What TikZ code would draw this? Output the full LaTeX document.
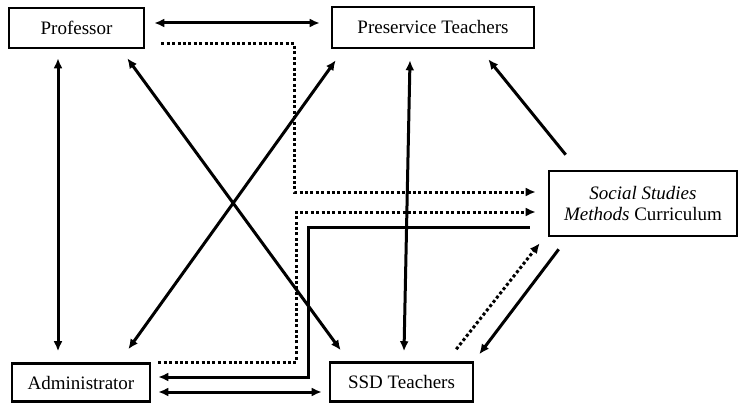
\documentclass[tikz,border=0pt]{standalone}
\usepackage{fontspec}
\setmainfont{Liberation Serif}
\usetikzlibrary{arrows.meta}
\begin{document}
\begin{tikzpicture}[x=1pt,y=-1pt,
  box/.style={draw,line width=2.6pt,inner sep=0pt,align=center,
    font=\fontsize{19}{21}\selectfont},
  tip/.tip={Latex[length=10pt,width=9pt]},
  link/.style={line width=3pt,-tip},
  dbl/.style={line width=3pt,tip-tip},
  dots/.style={link,dash pattern=on 3pt off 2.4pt}]
\useasboundingbox (0,0) rectangle (739,404);

% boxes
\node[box,minimum width=135pt,minimum height=40pt] (prof) at (76.5,28) {Professor};
\node[box,minimum width=202pt,minimum height=41pt] (pres) at (433,27.5) {Preservice Teachers};
\node[box,minimum width=188pt,minimum height=65pt] (curr) at (643,203.5)
  {\textit{Social Studies}\\\textit{Methods} Curriculum};
\node[box,minimum width=138pt,minimum height=38pt] (admin) at (81,382.5) {Administrator};
\node[box,minimum width=143pt,minimum height=39pt] (ssd) at (401.5,382) {SSD Teachers};

% two-way links
\draw[dbl] ([xshift=9pt,yshift=5pt]prof.east) -- ([xshift=-11pt,yshift=4.5pt]pres.west);
\draw[dbl] ([xshift=-18.5pt,yshift=-9pt]prof.south) -- ([xshift=-23pt,yshift=11pt]admin.north);
\draw[dbl] ([xshift=-18pt,yshift=-9pt]prof.south east) -- ([xshift=12pt,yshift=11pt]ssd.north west);
\draw[dbl] ([xshift=-23pt,yshift=13pt]admin.north east) -- ([xshift=5pt,yshift=-11pt]pres.south west);
\draw[dbl] ([xshift=-23pt,yshift=-11pt]pres.south) -- ([xshift=2.5pt,yshift=10pt]ssd.north);
\draw[dbl] ([xshift=7pt,yshift=-9.5pt]admin.east) -- ([xshift=-7pt,yshift=-10pt]ssd.west);

% one-way links from the curriculum
\draw[link] ([xshift=18pt,yshift=15pt]curr.north west) -- ([xshift=-47pt,yshift=-10pt]pres.south east);
\draw[link] ([xshift=11pt,yshift=-12pt]curr.south west) -- ([xshift=5pt,yshift=7pt]ssd.north east);
\draw[link] ([xshift=-18pt,yshift=-23.5pt]curr.west) -- ++(-221,0)
  |- ([xshift=7pt,yshift=5.5pt]admin.east);

% dotted links into the curriculum
\draw[dots] ([xshift=-18pt,yshift=12pt]ssd.north east) -- ([xshift=-8pt,yshift=-6pt]curr.south west);
\draw[dots] ([xshift=16pt,yshift=-16pt]prof.east) -- ++(133,0)
  |- ([xshift=-12pt,yshift=11.5pt]curr.west);
\draw[dots] ([xshift=7pt,yshift=20.5pt]admin.east) -- ++(138,0)
  |- ([xshift=-12pt,yshift=-8.5pt]curr.west);
\end{tikzpicture}
\end{document}
